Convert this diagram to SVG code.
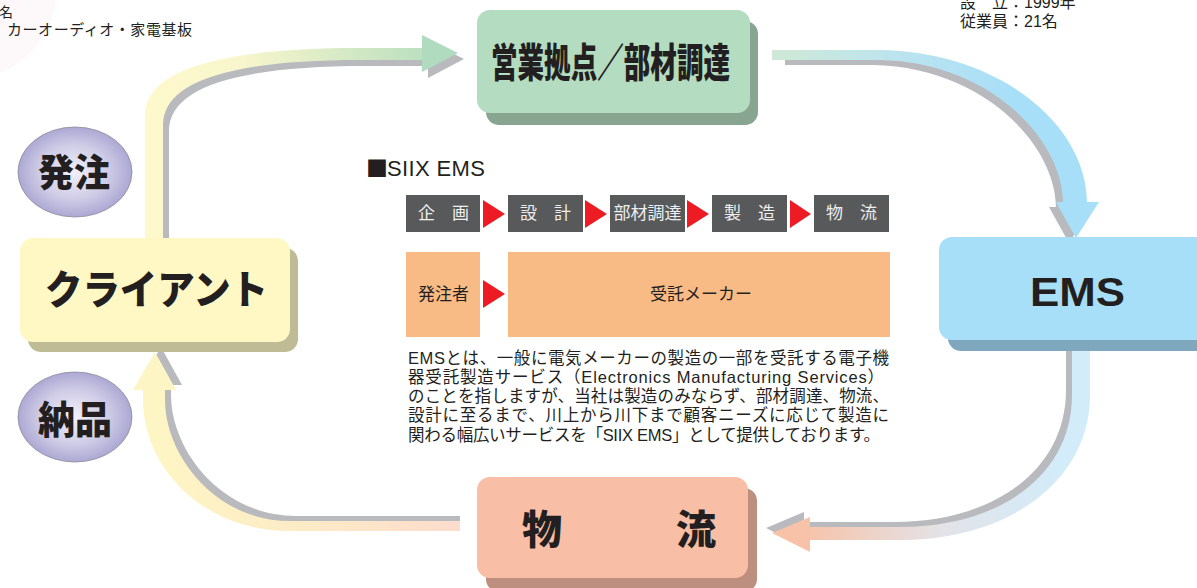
<svg xmlns="http://www.w3.org/2000/svg" width="1197" height="588" viewBox="0 0 1197 588">
<defs>
<style>
.jp{font-family:"Liberation Sans","Noto Sans CJK JP",sans-serif;fill:#231f20}
.big{font-family:"Noto Sans CJK JP",sans-serif;font-weight:900;fill:#231f20}
.step{font-family:"Liberation Sans","Noto Sans CJK JP",sans-serif;font-size:17px;fill:#eeeeee;text-anchor:middle}
.stepbox{fill:#58595b}
.tri{fill:#ed1c24}
.org{fill:#f9bb86}
.shd{fill:#b9babe}
.ell{fill:url(#gEll);stroke:#8c8c9c;stroke-width:0.8}
</style>
<radialGradient id="gEll" cx="0.5" cy="0.5" r="0.55" fx="0.48" fy="0.5">
<stop offset="0" stop-color="#f2f1fa"/>
<stop offset="0.55" stop-color="#cfcce6"/>
<stop offset="1" stop-color="#a39fcf"/>
</radialGradient>
<radialGradient id="gPink" cx="0" cy="0" r="1">
<stop offset="0" stop-color="#f3dce3"/>
<stop offset="0.7" stop-color="#f9edf1"/>
<stop offset="1" stop-color="#fdf8fa"/>
</radialGradient>
<linearGradient id="g1" gradientUnits="userSpaceOnUse" x1="150" y1="0" x2="460" y2="0">
<stop offset="0" stop-color="#fef9cc"/>
<stop offset="0.3" stop-color="#f7f6cc"/>
<stop offset="1" stop-color="#b0dbbe"/>
</linearGradient>
<linearGradient id="g2" gradientUnits="userSpaceOnUse" x1="772" y1="0" x2="1010" y2="0">
<stop offset="0" stop-color="#cfe9d6"/>
<stop offset="0.5" stop-color="#bde4ee"/>
<stop offset="1" stop-color="#a8dff8"/>
</linearGradient>
<linearGradient id="g3" gradientUnits="userSpaceOnUse" x1="1060" y1="0" x2="800" y2="0">
<stop offset="0" stop-color="#d2ecf9"/>
<stop offset="0.45" stop-color="#e3e3e8"/>
<stop offset="1" stop-color="#f7c2a7"/>
</linearGradient>
<linearGradient id="g4" gradientUnits="userSpaceOnUse" x1="150" y1="0" x2="460" y2="0">
<stop offset="0" stop-color="#fdf6c4"/>
<stop offset="0.5" stop-color="#fdebc6"/>
<stop offset="1" stop-color="#fcdccd"/>
</linearGradient>
</defs>

<rect width="1197" height="588" fill="#ffffff"/>
<ellipse cx="-25" cy="-15" rx="82" ry="92" fill="url(#gPink)"/>

<g id="header-text">
<text class="jp" x="-1" y="17" font-size="14">名</text>
<text class="jp" x="7" y="35" font-size="15" textLength="185">カーオーディオ・家電基板</text>
<text class="jp" x="960" y="8" font-size="16">設　立：1999年</text>
<text class="jp" x="960" y="27" font-size="16">従業員：21名</text>
</g>

<g id="connectors">
<g id="arrow-client-eigyo">
<g transform="translate(6,6)" class="shd">
<path d="M145,240 L145,115 C145,70 220,48 360,48 L424,48 L424,60 L360,60 C235,60 163,80 163,125 L163,240 Z"/>
<path d="M422,35 L458,53 L422,72 Z"/>
</g>
<path fill="url(#g1)" d="M145,240 L145,115 C145,70 220,48 360,48 L424,48 L424,60 L360,60 C235,60 163,80 163,125 L163,240 Z"/>
<path fill="#b0dbbe" d="M422,35 L458,53 L422,72 Z"/>
</g>
<g id="arrow-eigyo-ems">
<path class="shd" d="M785,55 L873,55 C993,57 1080,130 1080,208 L1056,208 C1056,145 983,67 873,65 L785,65 Z"/>
<path class="shd" d="M1049,207 L1092,207 L1069,243 Z"/>
<path fill="url(#g2)" d="M772,50 L880,50 C1000,52 1087,125 1087,203 L1063,203 C1063,140 990,62 880,60 L772,60 Z"/>
<path fill="#a8dff8" d="M1056,202 L1099,202 L1076,238 Z"/>
</g>
<g id="arrow-ems-butsuryu">
<g transform="translate(-6,-5)" class="shd">
<path d="M1090,345 L1090,395 C1090,480 1010,540 900,540 L809,540 L809,527 L900,527 C1000,527 1072,475 1072,395 L1072,345 Z"/>
<path d="M810,517 L772,533 L810,552 Z"/>
</g>
<path fill="url(#g3)" d="M1090,345 L1090,395 C1090,480 1010,540 900,540 L809,540 L809,527 L900,527 C1000,527 1072,475 1072,395 L1072,345 Z"/>
<path fill="#f7c2a7" d="M810,517 L772,533 L810,552 Z"/>
</g>
<g id="arrow-butsuryu-client">
<path class="shd" d="M460,526 L296,526 C206,526 149,460 149,395 L149,383 L171,383 L171,395 C171,450 221,516 296,516 L460,516 Z"/>
<path class="shd" d="M139,385 L161,347 L182,385 Z"/>
<path fill="url(#g4)" d="M460,531 L290,531 C200,531 143,465 143,400 L143,388 L165,388 L165,400 C165,455 215,521 290,521 L460,521 Z"/>
<path fill="#fdf6c4" d="M133,390 L155,352 L176,390 Z"/>
</g>
</g>

<g id="node-eigyo">
<rect x="486" y="21" width="272" height="104" rx="13" fill="#88a592"/>
<rect x="477" y="10" width="273" height="103" rx="13" fill="#b3dcc0"/>
<text class="big" x="491" y="77" font-size="40" textLength="239" lengthAdjust="spacingAndGlyphs">営業拠点／部材調達</text>
</g>

<g id="node-client">
<rect x="28" y="248" width="270" height="104" rx="13" fill="#bfbb94"/>
<rect x="20" y="238" width="270" height="104" rx="13" fill="#fff8c5"/>
<text class="big" x="45" y="304" font-size="40" textLength="223" lengthAdjust="spacingAndGlyphs">クライアント</text>
</g>

<g id="node-ems">
<rect x="948" y="248" width="270" height="103" rx="13" fill="#7fa8be"/>
<rect x="939" y="237" width="280" height="103" rx="13" fill="#a8dff8"/>
<text x="1030" y="306" font-family="Liberation Sans, Arial, sans-serif" font-weight="bold" font-size="41" fill="#231f20" textLength="95" lengthAdjust="spacingAndGlyphs">EMS</text>
</g>

<g id="node-butsuryu">
<rect x="486" y="488" width="271" height="104" rx="13" fill="#bd8f7f"/>
<rect x="477" y="477" width="271" height="101" rx="13" fill="#f8bea6"/>
<text class="big" y="544" font-size="40"><tspan x="522">物</tspan><tspan x="676">流</tspan></text>
</g>

<g id="node-hatchu">
<ellipse class="ell" cx="75" cy="172" rx="57" ry="45"/>
<text class="big" x="38" y="186" font-size="38" textLength="72" lengthAdjust="spacingAndGlyphs">発注</text>
</g>

<g id="node-nouhin">
<ellipse class="ell" cx="75" cy="417" rx="57" ry="45"/>
<text class="big" x="38" y="433" font-size="38" textLength="74" lengthAdjust="spacingAndGlyphs">納品</text>
</g>

<g id="siix-ems">
<text class="jp" x="366" y="176" font-size="22"><tspan font-family="Noto Sans CJK JP, sans-serif" font-size="22">■</tspan><tspan x="387" textLength="98">SIIX EMS</tspan></text>
<g id="process-row">
<rect class="stepbox" x="406" y="195" width="74" height="37"/>
<text class="step" x="443.5" y="219">企　画</text>
<path class="tri" d="M483,200 L505,214 L483,228 Z"/>
<rect class="stepbox" x="508" y="195" width="75" height="37"/>
<text class="step" x="545.5" y="219">設　計</text>
<path class="tri" d="M585,200 L607,214 L585,228 Z"/>
<rect class="stepbox" x="610" y="195" width="75" height="37"/>
<text class="step" x="647.5" y="219" textLength="68">部材調達</text>
<path class="tri" d="M687,200 L709,214 L687,228 Z"/>
<rect class="stepbox" x="712" y="195" width="75" height="37"/>
<text class="step" x="749.5" y="219">製　造</text>
<path class="tri" d="M790,200 L811,214 L790,228 Z"/>
<rect class="stepbox" x="814" y="195" width="75" height="37"/>
<text class="step" x="851.5" y="219">物　流</text>
</g>
<g id="role-row">
<rect class="org" x="406" y="252" width="74" height="85"/>
<text class="jp" x="443.5" y="300" font-size="17" text-anchor="middle">発注者</text>
<path class="tri" d="M483,280 L505,294 L483,308 Z"/>
<rect class="org" x="508" y="252" width="382" height="85"/>
<text class="jp" x="701" y="300" font-size="17" text-anchor="middle">受託メーカー</text>
</g>
<g id="description" font-size="16.5">
<text class="jp" x="408" y="364" textLength="481">EMSとは、一般に電気メーカーの製造の一部を受託する電子機</text>
<text class="jp" x="408" y="383" textLength="476">器受託製造サービス（Electronics Manufacturing Services）</text>
<text class="jp" x="408" y="402" textLength="481">のことを指しますが、当社は製造のみならず、部材調達、物流、</text>
<text class="jp" x="408" y="421" textLength="481">設計に至るまで、川上から川下まで顧客ニーズに応じて製造に</text>
<text class="jp" x="408" y="441" textLength="472">関わる幅広いサービスを「SIIX EMS」として提供しております。</text>
</g>
</g>
</svg>
